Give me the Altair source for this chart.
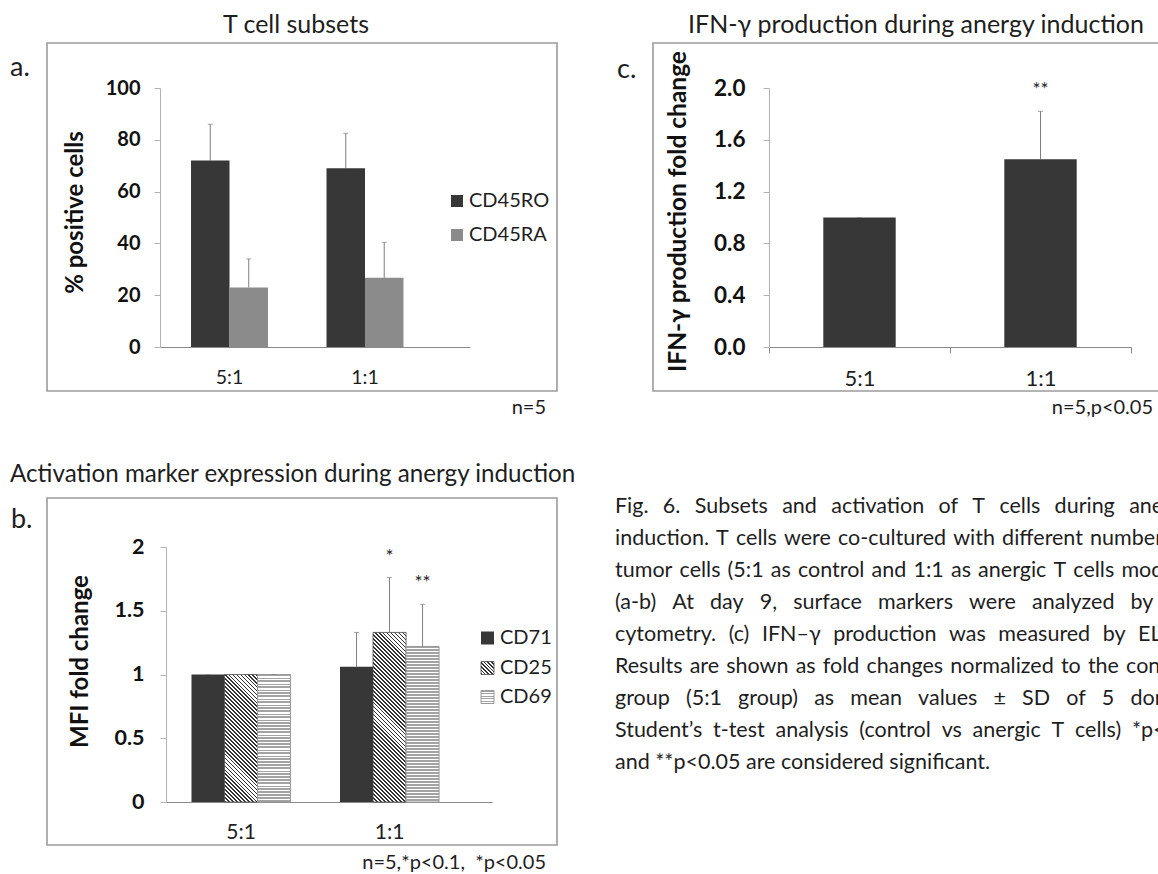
import math
import altair as alt
import pandas as pd

FONT = "Lato"
W, H = 1158, 874
INK = "#1e1e1e"
YAXIS_C = "#b3b3b3"
XAXIS_C = "#8a8a8a"
ERR_C = "#7f7f7f"
BOX_C = "#9c9c9c"
DARK = "#373737"
MID = "#8b8b8b"

# ---------------- data ----------------
groups = ["5:1", "1:1"]

a_series = ["CD45RO", "CD45RA"]
a_cd45ro_mean = [72.0, 69.0]
a_cd45ro_sd = [14.0, 13.5]
a_cd45ra_mean = [23.0, 26.7]
a_cd45ra_sd = [11.0, 13.7]
a_yticks = [0, 20, 40, 60, 80, 100]

b_series = ["CD71", "CD25", "CD69"]
b_cd71_mean = [1.0, 1.06]
b_cd71_sd = [0.0, 0.27]
b_cd25_mean = [1.0, 1.33]
b_cd25_sd = [0.0, 0.43]
b_cd69_mean = [1.0, 1.22]
b_cd69_sd = [0.0, 0.33]
b_cd25_sig = ["", "*"]
b_cd69_sig = ["", "**"]
b_yticks = [0, 0.5, 1, 1.5, 2]

c_mean = [1.0, 1.45]
c_sd = [0.0, 0.37]
c_sig = ["", "**"]
c_yticks = [0.0, 0.4, 0.8, 1.2, 1.6, 2.0]

caption_lines = [
    "Fig. 6. Subsets and activation of T cells during anergy",
    "induction. T cells were co-cultured with different numbers of",
    "tumor cells (5:1 as control and 1:1 as anergic T cells model).",
    "(a-b) At day 9, surface markers were analyzed by flow",
    "cytometry. (c) IFN\u2013\u03b3 production was measured by ELISA.",
    "Results are shown as fold changes normalized to the control",
    "group (5:1 group) as mean values \u00b1 SD of 5 donors.",
    "Student\u2019s t-test analysis (control vs anergic T cells) *p<0.1",
    "and **p<0.05 are considered significant.",
]
# word gap (px) of each justified caption line; 0 = natural spacing
caption_gap_px = [14.3, 7.2, 7.2, 15.6, 13.3, 7.2, 16.8, 11.5, 0]

# ---------------- layout (pixels) ----------------
A_XR, A_YR = [160, 470], [347, 88]
B_XR, B_YR = [166, 492], [802, 547]
C_XR, C_YR = [769, 1131], [347, 88]
A_PAD = dict(paddingInner=0.432, paddingOuter=0.36, align=0.318)
B_PAD = dict(paddingInner=0.333, paddingOuter=0.264, align=0.325)
CAP_SIZE = 21.5


def bandwidth(rng, n, pi, po):
    span = rng[1] - rng[0]
    step = span / max(1, n - pi + 2 * po)
    return step * (1 - pi)


b_bar_w = bandwidth(B_XR, 2, B_PAD["paddingInner"], B_PAD["paddingOuter"]) / 3
b_px_unit = (B_YR[0] - B_YR[1]) / 2.0


def stripe_stops(n, line, bg, duty):
    stops = []
    for k in range(n):
        a, b, c = k / n, (k + duty) / n, (k + 1) / n
        stops += [
            {"offset": round(a, 5), "color": line},
            {"offset": round(b, 5), "color": line},
            {"offset": round(b, 5), "color": bg},
            {"offset": round(c, 5), "color": bg},
        ]
    return stops


def hstripes(h, period=3.0, line="#a3a3a3", bg="#ffffff", duty=0.4):
    n = max(1, math.ceil(h / period))
    return {"gradient": "linear", "x1": 0, "y1": 0, "x2": 0, "y2": round(n * period / h, 5),
            "stops": stripe_stops(n, line, bg, duty)}


def dstripes(w, h, period=2.8, line="#333333", bg="#ffffff", duty=0.45):
    r = h / w
    s = (1 + r) / (1 + r * r)
    dist = (w + h) / math.sqrt(2)
    n = max(1, math.ceil(dist / period))
    f = n * period / dist
    x2, y2 = s * f, 1 - s * r * f
    return {"gradient": "linear", "x1": 0, "y1": 1, "x2": round(x2, 5), "y2": round(y2, 5),
            "stops": stripe_stops(n, line, bg, duty)}


def rows(series, means, sds, sigs=None):
    out = []
    for i, g in enumerate(groups):
        out.append({"group": g, "series": series, "mean": means[i],
                     "upper": round(means[i] + sds[i], 4),
                     "sig": sigs[i] if sigs else ""})
    return out


a_df = pd.DataFrame(rows("CD45RO", a_cd45ro_mean, a_cd45ro_sd) + rows("CD45RA", a_cd45ra_mean, a_cd45ra_sd))
b_df = pd.DataFrame(rows("CD71", b_cd71_mean, b_cd71_sd)
                    + rows("CD25", b_cd25_mean, b_cd25_sd, b_cd25_sig)
                    + rows("CD69", b_cd69_mean, b_cd69_sd, b_cd69_sig))
c_df = pd.DataFrame(rows("IFN", c_mean, c_sd, c_sig))


def y_axis(x_px, title_y, values, fmt, title, title_x, pad, lsize=20, tsize=24):
    return alt.Axis(orient="left", offset=-x_px, values=values, format=fmt, grid=False,
                    tickSize=6, tickColor=YAXIS_C, tickWidth=1, domainColor=YAXIS_C, domainWidth=1,
                    labelFont=FONT, labelFontSize=lsize, labelFontWeight="bold", labelColor="#111111",
                    labelPadding=pad,
                    title=title, titleFont=FONT, titleFontSize=tsize, titleFontWeight="bold",
                    titleColor="#111111", titleX=title_x - x_px, titleY=title_y,
                    titleAngle=270, titleAlign="center", titleBaseline="middle")


def x_axis(y_px, ticks=False, pad=30, lsize=19.5):
    kw = dict(orient="bottom", offset=y_px - H, title=None, labelAngle=0, ticks=ticks,
              tickSize=6 if ticks else 0, tickColor=XAXIS_C, domainColor=XAXIS_C, domainWidth=1.2,
              labelFont=FONT, labelFontSize=lsize, labelColor=INK, labelBaseline="middle",
              labelPadding=pad)
    if ticks:
        kw["tickBand"] = "extent"
    return alt.Axis(**kw)


def make_y(scale, axis):
    def enc(field):
        return alt.Y(field, scale=scale, axis=axis)
    return enc


def err_layers(base, yenc):
    rule = base.mark_rule(color=ERR_C, strokeWidth=1).encode(y=yenc("mean:Q"), y2="upper:Q")
    cap = base.mark_tick(color=ERR_C, size=5, thickness=1).encode(y=yenc("upper:Q"))
    return [rule, cap]


def star_layer(base, yenc):
    return base.mark_text(dy=-21, fontSize=19, font=FONT, color=INK, baseline="middle").encode(
        y=yenc("upper:Q"), text="sig:N")


# ---------------- panel a ----------------
a_x = alt.X("group:N", sort=groups, scale=alt.Scale(domain=groups, range=A_XR, **A_PAD),
            axis=x_axis(A_YR[0], lsize=19.5))
a_off = alt.XOffset("series:N", scale=alt.Scale(domain=a_series))
a_yenc = make_y(alt.Scale(domain=[0, 100], range=A_YR, nice=False),
                y_axis(A_XR[0], 212, a_yticks, "d", "% positive cells", 75, 14, lsize=20, tsize=24))
a_base = alt.Chart(a_df).encode(x=a_x, xOffset=a_off)
a_bars = a_base.mark_bar().encode(
    y=a_yenc("mean:Q"),
    color=alt.Color("series:N", scale=alt.Scale(domain=a_series, range=[DARK, MID]), legend=None))
panel_a = alt.layer(a_bars, *err_layers(a_base, a_yenc))

# ---------------- panel b ----------------
b_x = alt.X("group:N", sort=groups, scale=alt.Scale(domain=groups, range=B_XR, **B_PAD),
            axis=x_axis(B_YR[0], lsize=21))
b_off = alt.XOffset("series:N", scale=alt.Scale(domain=b_series))
b_yenc = make_y(alt.Scale(domain=[0, 2], range=B_YR, nice=False),
                y_axis(B_XR[0], 661, b_yticks, "~g", "MFI fold change", 80, 16, lsize=21.5, tsize=24))
b_base = alt.Chart(b_df).encode(x=b_x, xOffset=b_off)
b_means = {"CD71": b_cd71_mean, "CD25": b_cd25_mean, "CD69": b_cd69_mean}
b_layers = []
for s in b_series:
    for gi, g in enumerate(groups):
        h = b_means[s][gi] * b_px_unit
        if s == "CD71":
            style = dict(fill=DARK)
        elif s == "CD25":
            style = dict(fill=dstripes(b_bar_w, h), stroke="#4a4a4a", strokeWidth=0.8)
        else:
            style = dict(fill=hstripes(h), stroke="#9a9a9a", strokeWidth=1)
        b_layers.append(
            b_base.transform_filter((alt.datum.series == s) & (alt.datum.group == g))
            .mark_bar(**style).encode(y=b_yenc("mean:Q")))
panel_b = alt.layer(*b_layers, *err_layers(b_base, b_yenc), star_layer(b_base, b_yenc))

# ---------------- panel c ----------------
c_x = alt.X("group:N", sort=groups, scale=alt.Scale(domain=groups, range=C_XR, paddingInner=0, paddingOuter=0),
            axis=x_axis(C_YR[0], ticks=True, pad=25, lsize=22))
c_yenc = make_y(alt.Scale(domain=[0, 2], range=C_YR, nice=False),
                y_axis(C_XR[0], 211, c_yticks, ".1f", "IFN-\u03b3 production fold change", 678, 18,
                       lsize=22.5, tsize=24.5))
c_base = alt.Chart(c_df).encode(x=c_x)
c_bars = c_base.mark_bar(width=alt.RelativeBandSize(0.4), color=DARK).encode(y=c_yenc("mean:Q"))
panel_c = alt.layer(c_bars, *err_layers(c_base, c_yenc), star_layer(c_base, c_yenc))

# ---------------- frames ----------------
boxes_df = pd.DataFrame({"x": [47, 47, 653], "x2": [557, 557, 1180],
                         "y": [43, 498, 43], "y2": [391, 845, 391]})
boxes = alt.Chart(boxes_df).mark_rect(fillOpacity=0, stroke=BOX_C, strokeWidth=1.6).encode(
    x=alt.X("x:Q", scale=None, axis=None), x2="x2:Q",
    y=alt.Y("y:Q", scale=None, axis=None), y2="y2:Q")

# ---------------- legends ----------------
leg_items = [
    ("CD45RO", 451, 201, 12, dict(fill=DARK)),
    ("CD45RA", 451, 235, 12, dict(fill=MID)),
    ("CD71", 481, 638, 13, dict(fill=DARK)),
    ("CD25", 481, 668, 13, dict(fill=dstripes(13, 13, period=2.6), stroke="#4a4a4a", strokeWidth=0.8)),
    ("CD69", 481, 697, 13, dict(fill=hstripes(13, period=2.6), stroke="#9a9a9a", strokeWidth=1)),
]
leg_layers = []
for name, lx, ly, sz, style in leg_items:
    d = pd.DataFrame({"x": [lx], "x2": [lx + sz], "y": [ly - sz / 2], "y2": [ly + sz / 2]})
    leg_layers.append(alt.Chart(d).mark_rect(**style).encode(
        x=alt.X("x:Q", scale=None, axis=None), x2="x2:Q",
        y=alt.Y("y:Q", scale=None, axis=None), y2="y2:Q"))


def text_layer(df, align="left", size=20, weight="normal", color=INK):
    return alt.Chart(df).mark_text(align=align, baseline="middle", fontSize=size, fontWeight=weight,
                                   font=FONT, color=color).encode(
        x=alt.X("px:Q", scale=None, axis=None), y=alt.Y("py:Q", scale=None, axis=None), text="text:N")


leg_text = text_layer(pd.DataFrame({
    "text": [it[0] for it in leg_items],
    "px": [it[1] + it[3] + 6 for it in leg_items],
    "py": [it[2] for it in leg_items]}), size=20)

titles = text_layer(pd.DataFrame({
    "text": ["T cell subsets", "IFN-\u03b3 production during anergy induction"],
    "px": [296, 916], "py": [25, 25]}), align="center", size=25)
title_b = text_layer(pd.DataFrame({
    "text": ["Activation marker expression during anergy induction"], "px": [10], "py": [475]}), size=24.2)
letters = text_layer(pd.DataFrame({
    "text": ["a.", "b.", "c."], "px": [10, 11, 617], "py": [68, 520, 70]}), size=27)
notes = text_layer(pd.DataFrame({
    "text": ["n=5", "n=5,p<0.05", "n=5,*p<0.1,\u00a0 *p<0.05"], "px": [546, 1153, 546], "py": [408, 408, 863]}),
    align="right", size=20)


def gap_string(px):
    # build a word gap of about `px` pixels from 1/4-em and 1/6-em spaces
    unit = CAP_SIZE / 12.0
    k = max(2, round(px / unit))
    a, rem = divmod(k, 3)
    b = 0
    if rem == 1:
        a, b = a - 1, 2
    elif rem == 2:
        b = 1
    return "\u2005" * a + "\u2006" * b


def justify(line, gap_px):
    if not gap_px:
        return line
    return gap_string(gap_px).join(line.split(" "))


cap_text = [justify(line, g) for line, g in zip(caption_lines, caption_gap_px)]
caption = text_layer(pd.DataFrame({
    "text": cap_text, "px": [615] * len(cap_text),
    "py": [507 + 32 * i for i in range(len(cap_text))]}), size=CAP_SIZE)

chart = (
    alt.layer(boxes, panel_a, panel_b, panel_c, *leg_layers, leg_text, titles, title_b, letters, notes, caption)
    .resolve_scale(x="independent", y="independent", xOffset="independent", color="independent")
    .resolve_axis(x="independent", y="independent")
    .properties(width=W, height=H, padding=0, autosize=alt.AutoSizeParams(type="none"), background="white")
    .configure(font=FONT)
    .configure_view(strokeWidth=0)
)

chart.save("out.html", embed_options={"renderer": "svg", "actions": False})
